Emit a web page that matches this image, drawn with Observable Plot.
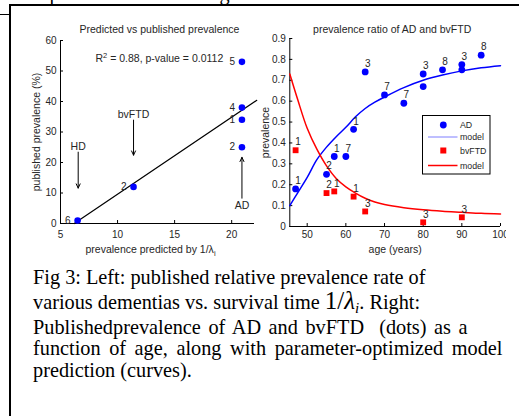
<!DOCTYPE html>
<html>
<head>
<meta charset="utf-8">
<script src="https://cdn.jsdelivr.net/npm/d3@7"></script>
<script src="https://cdn.jsdelivr.net/npm/@observablehq/plot@0.6"></script>
<style>
  html, body { margin: 0; padding: 0; background: #fff; }
  #root { position: relative; width: 519px; height: 416px; overflow: hidden; background: #fff; }
  .abs { position: absolute; }
  .cap { position: absolute; left: 33px; font-family: "Liberation Serif", "Times New Roman", serif; font-size: 20.3px; line-height: 22px; color: #000; white-space: nowrap; }
  .math { font-family: "Liberation Serif", "DejaVu Serif", serif; font-size: 25px; }
</style>
</head>
<body>
<div id="root"></div>
<script>
// ---------------- DATA ----------------
// Left panel: predicted (1/lambda_i) vs published prevalence (%)
const leftX = [6.5, 11.4, 20.9, 20.9, 20.9, 20.9];
const leftY = [1, 12, 53, 38, 34, 25];
const leftLabels = ["6", "2", "5", "4", "1", "2"];
const fitX = [6.2, 22.2];
const fitY = [0, 40.4];
const leftXTicks = [5, 10, 15, 20];
const leftYTicks = [0, 10, 20, 30, 40, 50, 60];
const leftXDomain = [5, 22];
const leftYDomain = [0, 60];
// annotations: label, x, arrow start y, arrow end y, text y
const annLabels = ["bvFTD", "HD", "AD"];
const annX = [11.4, 6.55, 20.9];
const annY1 = [33.9, 23.4, 8.3];
const annY2 = [22.4, 11.6, 21.7];
const annTextY = [35.8, 25.3, 5.7];

// Right panel: prevalence ratio vs age
const adAge = [47, 55, 57, 60, 62, 65, 70, 75, 80, 80, 85, 90, 90, 95];
const adVal = [0.18, 0.25, 0.335, 0.335, 0.465, 0.74, 0.63, 0.59, 0.73, 0.67, 0.75, 0.775, 0.75, 0.82];
const adLabels = ["1", "2", "1", "7", "1", "3", "7", "7", "3", "", "8", "3", "", "8"];
const ftdAge = [47, 55, 57, 62, 65, 80, 90];
const ftdVal = [0.365, 0.16, 0.168, 0.143, 0.072, 0.02, 0.044];
const ftdLabels = ["1", "2", "1", "1", "3", "3", "3"];
const modelAge = [45.5, 47.5, 50, 52.5, 55, 57.5, 60, 62.5, 65, 67.5, 70, 75, 80, 85, 90, 95, 100];
const adModel = [0.10, 0.16, 0.235, 0.32, 0.38, 0.43, 0.475, 0.525, 0.565, 0.595, 0.62, 0.665, 0.70, 0.725, 0.745, 0.76, 0.77];
const ftdModel = [0.73, 0.61, 0.47, 0.37, 0.29, 0.23, 0.19, 0.16, 0.135, 0.117, 0.105, 0.09, 0.08, 0.073, 0.068, 0.063, 0.06];
const rightXTicks = [50, 60, 70, 80, 90, 100];
const rightYTicks = [0, 0.1, 0.2, 0.3, 0.4, 0.5, 0.6, 0.7, 0.8, 0.9];
const rightXDomain = [45.5, 100];
const rightYDomain = [0, 0.9];
const legendLabels = ["AD", "model", "bvFTD", "model"];

// ---------------- BUILD ----------------
const root = document.getElementById("root");
const BLUE = "#0000ff", RED = "#ff0000";
const TXT = "#262626";
const axisFont = {fontFamily: "'Liberation Sans', Arial, sans-serif", fontSize: "10px", color: TXT, background: "transparent", overflow: "visible"};

// top cut-off text and frame rules
const topText = document.createElement("div");
topText.className = "cap";
topText.style.left = "0px";
topText.style.top = "-18px";
topText.textContent = "correspondence between eigen-modes and dementias.";
root.appendChild(topText);

function rule(l, t, w, h) {
  const d = document.createElement("div");
  d.className = "abs";
  Object.assign(d.style, {left: l + "px", top: t + "px", width: w + "px", height: h + "px", background: "#000"});
  root.appendChild(d);
}
rule(9, 4, 510, 2);
rule(9, 4, 2, 412);
rule(0, 14, 10, 1);

const leftPts = leftX.map((x, i) => ({x, y: leftY[i], label: leftLabels[i]}));
const fit = fitX.map((x, i) => ({x, y: fitY[i]}));
const ann = annLabels.map((label, i) => ({label, x: annX[i], y1: annY1[i], y2: annY2[i], ty: annTextY[i]}));

const left = Plot.plot({
  width: 262, height: 260,
  marginLeft: 60, marginRight: 8, marginTop: 40, marginBottom: 37,
  x: {domain: leftXDomain},
  y: {domain: leftYDomain},
  style: axisFont,
  marks: [
    Plot.ruleX([leftXDomain[0]], {y1: leftYDomain[0], y2: leftYDomain[1], stroke: "#000"}),
    Plot.ruleY([leftYDomain[0]], {x1: leftXDomain[0], x2: leftXDomain[1], stroke: "#000"}),
    Plot.axisY(leftYTicks, {tickSize: -3, tickPadding: 7, label: null, stroke: "#000"}),
    Plot.axisX(leftXTicks, {tickSize: -3, tickPadding: 10, label: null, stroke: "#000"}),
    Plot.line(fit, {x: "x", y: "y", stroke: "#000", strokeWidth: 1.2}),
    Plot.arrow(ann, {x1: "x", x2: "x", y1: "y1", y2: "y2", stroke: "#000", strokeWidth: 1, headLength: 7, headAngle: 50}),
    Plot.text(ann, {x: "x", y: "ty", text: "label", fontSize: 10.5, fill: TXT}),
    Plot.dot(leftPts, {x: "x", y: "y", r: 3.3, fill: BLUE, stroke: null}),
    Plot.text(leftPts, {x: "x", y: "y", text: "label", dx: -7, textAnchor: "end", fontSize: 10, fill: TXT}),
    Plot.text(["Predicted vs published prevalence"], {frameAnchor: "top", textAnchor: "middle", dy: -15, dx: 2, fontSize: 10.5, fill: TXT}),
    Plot.text(["R2 = 0.88, p-value = 0.0112"], {frameAnchor: "top-left", dx: 35, dy: 14, textAnchor: "start", fontSize: 10.5, fill: TXT, className: "r2"}),
    Plot.text(["published prevalence (%)"], {frameAnchor: "left", textAnchor: "middle", rotate: -90, dx: -24, fontSize: 10.5, fill: TXT}),
    Plot.text(["prevalence predicted by 1/λ"], {frameAnchor: "bottom", textAnchor: "middle", dy: 29, dx: -7, fontSize: 10.5, fill: TXT, className: "xlab"})
  ]
});
left.style.position = "absolute";
left.style.left = "0px";
left.style.top = "0px";
root.appendChild(left);

// superscript / subscript fix-ups
{
  const ns = "http://www.w3.org/2000/svg";
  const t = left.querySelector(".r2 text");
  if (t) {
    t.textContent = "";
    const a = document.createElementNS(ns, "tspan"); a.textContent = "R";
    const b = document.createElementNS(ns, "tspan"); b.textContent = "2"; b.setAttribute("dy", "-4"); b.setAttribute("font-size", "7.5");
    const c = document.createElementNS(ns, "tspan"); c.textContent = " = 0.88, p-value = 0.0112"; c.setAttribute("dy", "4");
    t.append(a, b, c);
  }
  const x = left.querySelector(".xlab text");
  if (x) {
    const s = document.createElementNS(ns, "tspan"); s.textContent = "i"; s.setAttribute("dy", "3"); s.setAttribute("font-size", "7.5");
    x.appendChild(s);
  }
}

// Right panel
const adPts = adAge.map((x, i) => ({x, y: adVal[i], label: adLabels[i]}));
const ftdPts = ftdAge.map((x, i) => ({x, y: ftdVal[i], label: ftdLabels[i]}));
const adCurve = modelAge.map((x, i) => ({x, y: adModel[i]}));
const ftdCurve = modelAge.map((x, i) => ({x, y: ftdModel[i]}));

const rightWrap = document.createElement("div");
rightWrap.className = "abs";
Object.assign(rightWrap.style, {left: "255px", top: "0px", width: "251px", height: "262px", overflow: "hidden"});
root.appendChild(rightWrap);

const right = Plot.plot({
  width: 251, height: 260,
  marginLeft: 34.3, marginRight: 6, marginTop: 38, marginBottom: 34,
  x: {domain: rightXDomain},
  y: {domain: rightYDomain},
  style: axisFont,
  marks: [
    Plot.ruleX([rightXDomain[0]], {y1: rightYDomain[0], y2: rightYDomain[1], stroke: "#000"}),
    Plot.ruleY([rightYDomain[0]], {x1: rightXDomain[0], x2: rightXDomain[1], stroke: "#000"}),
    Plot.axisY(rightYTicks, {tickSize: -3, tickPadding: 7, label: null, stroke: "#000", tickFormat: d => d === 0 ? "0" : d.toFixed(1)}),
    Plot.axisX(rightXTicks, {tickSize: -3, tickPadding: 7, label: null, stroke: "#000"}),
    Plot.line(adCurve, {x: "x", y: "y", stroke: BLUE, strokeWidth: 1.5, curve: "catmull-rom"}),
    Plot.line(ftdCurve, {x: "x", y: "y", stroke: RED, strokeWidth: 1.5, curve: "catmull-rom"}),
    Plot.dot(adPts, {x: "x", y: "y", r: 3.4, fill: BLUE, stroke: null}),
    Plot.dot(ftdPts, {x: "x", y: "y", r: 3.3, symbol: "square", fill: RED, stroke: null}),
    Plot.text(adPts, {x: "x", y: "y", text: "label", dx: 2.5, dy: -8, fontSize: 10, fill: TXT}),
    Plot.text(ftdPts, {x: "x", y: "y", text: "label", dx: 2.5, dy: -8, fontSize: 10, fill: TXT}),
    Plot.text(["prevalence ratio of AD and bvFTD"], {frameAnchor: "top", textAnchor: "middle", dy: -13, dx: -3, fontSize: 10.5, fill: TXT}),
    Plot.text(["prevalence"], {frameAnchor: "left", textAnchor: "middle", rotate: -90, dx: -24, fontSize: 10.5, fill: TXT}),
    Plot.text(["age (years)"], {frameAnchor: "bottom", textAnchor: "middle", dy: 26, dx: 0, fontSize: 10.5, fill: TXT})
  ]
});
rightWrap.appendChild(right);

// Legend
{
  const svg = d3.select(root).append("svg")
    .attr("class", "abs")
    .style("left", "422px").style("top", "115px")
    .attr("width", 69).attr("height", 60);
  svg.append("rect").attr("x", 0.5).attr("y", 0.5).attr("width", 67.5).attr("height", 58.5)
    .attr("fill", "#fff").attr("stroke", "#000").attr("stroke-width", 1);
  const rows = [10, 22, 35.5, 50.5];
  const g = svg.append("g").attr("font-family", "'Liberation Sans', Arial, sans-serif").attr("font-size", 8.8).attr("fill", TXT);
  legendLabels.forEach((lab, i) => {
    g.append("text").attr("x", 38).attr("y", rows[i]).attr("dy", "0.35em").text(lab);
  });
  svg.append("circle").attr("cx", 21.3).attr("cy", rows[0]).attr("r", 3.4).attr("fill", BLUE);
  svg.append("line").attr("x1", 6).attr("x2", 35.5).attr("y1", rows[1]).attr("y2", rows[1]).attr("stroke", "#7f7fff").attr("stroke-width", 1);
  svg.append("rect").attr("x", 18.3).attr("y", rows[2] - 3).attr("width", 6).attr("height", 6).attr("fill", RED);
  svg.append("line").attr("x1", 6).attr("x2", 35.5).attr("y1", rows[3]).attr("y2", rows[3]).attr("stroke", RED).attr("stroke-width", 1.5);
}

// Caption
const capLines = [
  {top: 265.5, ws: 0, html: "Fig 3: Left: published relative prevalence rate of"},
  {top: 290, ws: 0, html: "various dementias vs. survival time <span class=\"math\">1/<i>λ</i><sub style=\"font-size:15px;vertical-align:-4px\"><i>i</i></sub></span>. Right:"},
  {top: 315.5, ws: 2.5, html: "Publishedprevalence of AD and bvFTD&nbsp; (dots) as a"},
  {top: 337, ws: 3.5, html: "function of age, along with parameter-optimized model"},
  {top: 359, ws: 0, html: "prediction (curves)."}
];
capLines.forEach(l => {
  const d = document.createElement("div");
  d.className = "cap";
  d.style.top = l.top + "px";
  d.style.wordSpacing = l.ws + "px";
  d.innerHTML = l.html;
  root.appendChild(d);
});
</script>
</body>
</html>
